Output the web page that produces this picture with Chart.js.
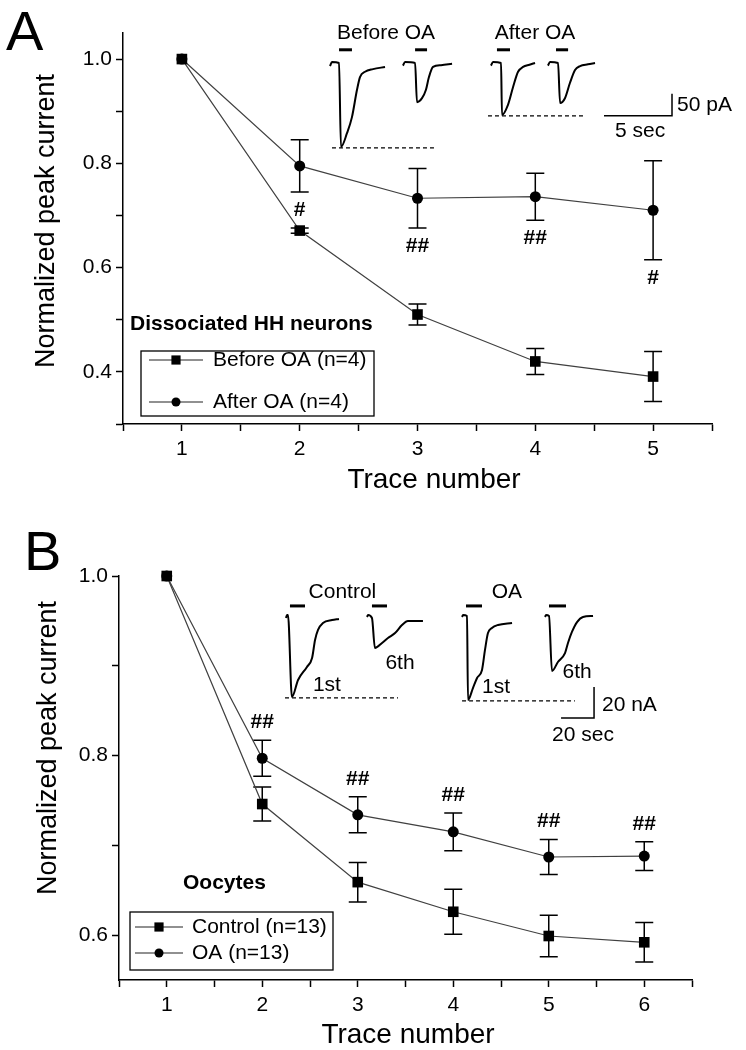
<!DOCTYPE html>
<html>
<head>
<meta charset="utf-8">
<script src="https://cdn.jsdelivr.net/npm/chart.js@4.4.0/dist/chart.umd.min.js"></script>
<style>
  body { margin: 0; background: #fff; }
  #wrap { position: relative; width: 746px; height: 1050px; }
  canvas { position: absolute; }
</style>
</head>
<body>
<div id="wrap">
  <canvas id="chartA" width="746" height="510" style="left:0;top:0"></canvas>
  <canvas id="insetA" width="426" height="140" style="left:320px;top:20px"></canvas>
  <canvas id="chartB" width="746" height="540" style="left:0;top:510px"></canvas>
  <canvas id="insetB" width="476" height="180" style="left:270px;top:570px"></canvas>
</div>
<script>
// ---- panel A: dissociated HH neurons ----
const traceNumA = [1, 2, 3, 4, 5];
const beforeOA = [1.0, 0.671, 0.510, 0.420, 0.391];
const beforeOAErr = [0, 0.005, 0.020, 0.025, 0.048];
const afterOA = [1.0, 0.795, 0.733, 0.736, 0.710];
const afterOAErr = [0, 0.050, 0.057, 0.045, 0.095];
const signifA = ['', '#', '##', '##', '#'];
const namesA = ['Before OA (n=4)', 'After OA (n=4)'];
const xTicksA = [0.5, 1, 1.5, 2, 2.5, 3, 3.5, 4, 4.5, 5, 5.5];
const xLabelsA = [1, 2, 3, 4, 5];
const yTicksA = [0.3, 0.4, 0.5, 0.6, 0.7, 0.8, 0.9, 1.0];
const yLabelsA = [0.4, 0.6, 0.8, 1.0];

// ---- panel B: oocytes ----
const traceNumB = [1, 2, 3, 4, 5, 6];
const control = [1.0, 0.746, 0.659, 0.626, 0.599, 0.592];
const controlErr = [0, 0.019, 0.022, 0.025, 0.023, 0.022];
const oa = [1.0, 0.797, 0.734, 0.715, 0.687, 0.688];
const oaErr = [0, 0.020, 0.020, 0.021, 0.0195, 0.016];
const signifB = ['', '##', '##', '##', '##', '##'];
const namesB = ['Control (n=13)', 'OA (n=13)'];
const xTicksB = [0.5, 1, 1.5, 2, 2.5, 3, 3.5, 4, 4.5, 5, 5.5, 6, 6.5];
const xLabelsB = [1, 2, 3, 4, 5, 6];
const yTicksB = [0.6, 0.7, 0.8, 0.9, 1.0];
const yLabelsB = [0.6, 0.8, 1.0];

// ---- inset A current traces (time s, current pA) ----
const befor1T = [0.74, 0.88, 1.40, 1.54, 1.99, 2.35, 2.72, 2.94, 3.31, 3.90, 4.78];
const befor1I = [-7, 2, 0, -191, -159, -123, -61, -32, -20, -14, -9];
const befor2T = [6.10, 6.25, 6.99, 7.13, 7.50, 7.79, 8.01, 8.31, 8.90, 9.71];
const befor2I = [-6, 2, 0, -89, -80, -61, -32, -9, -5, -2];
const after1T = [12.57, 12.72, 13.31, 13.38, 13.82, 14.19, 14.56, 14.93, 15.40, 15.81];
const after1I = [-6, 2, 0, -118, -95, -55, -20, -9, -4, 0];
const after2T = [16.76, 16.91, 17.50, 17.65, 18.01, 18.38, 18.75, 19.12, 19.70, 20.22];
const after2I = [-6, 2, 0, -91, -80, -45, -16, -7, -3, 0];
const stimA = [[1.40, 2.35], [6.99, 7.87], [13.01, 13.97], [17.35, 18.24]];
const stimLevelA = 30;
const peakRefA = [[0.88, 8.46, -193], [12.35, 19.34, -120]];
const scaleBarA = [[20.88, 25.88, 25.88], [-120, -120, -70]]; // 5 sec, 50 pA

// ---- inset B current traces (time s, current nA) ----
const ctl1T = [9.7, 10.3, 10.9, 13.3, 17.0, 22.4, 25.5, 27.3, 29.1, 32.1, 37.6, 41.8];
const ctl1I = [-1.3, 0.6, 0.6, -52.3, -41.3, -32.9, -27.1, -15.5, -9.0, -4.5, -2.6, -1.9];
const ctl6T = [58.8, 59.4, 61.8, 63.6, 67.9, 71.5, 75.8, 80.0, 83.6, 92.7];
const ctl6I = [-0.6, 0.6, -1.3, -20.6, -17.4, -14.2, -11.0, -5.8, -3.2, -3.2];
const oa1T = [116.4, 117.0, 119.4, 120.0, 123.0, 125.5, 128.5, 130.3, 132.1, 134.5, 138.2, 146.7];
const oa1I = [-0.6, 0.6, 0, -54.2, -46.5, -40.0, -34.8, -21.9, -11.0, -7.7, -5.8, -4.5];
const oa6T = [166.7, 167.3, 169.1, 170.9, 174.5, 178.8, 180.6, 183.0, 186.1, 189.7, 195.8];
const oa6I = [-0.6, 0.6, 0, -35.5, -29.7, -23.9, -17.4, -10.3, -3.9, -0.6, 0];
const stimB = [[12.1, 21.2], [61.8, 70.9], [118.8, 128.5], [169.1, 179.4]];
const stimLevelB = 6.5;
const peakRefB = [[9.1, 77.6, -52.9], [116.4, 184.8, -54.8]];
const scaleBarB = [[176.4, 196.4, 196.4], [-65.8, -65.8, -45.8]]; // 20 sec, 20 nA

const FONT = '"Liberation Sans", Arial, sans-serif';
Chart.defaults.font.family = FONT;
Chart.defaults.color = '#000';

function pts(xs, ys) {
  return xs.map((x, i) => ({ x: x, y: ys[i] }));
}
function near(list, v) {
  return list.some(a => Math.abs(a - v) < 1e-6);
}

// error bars under the symbols
const errorBars = {
  id: 'errorBars',
  beforeDatasetsDraw(chart) {
    const ctx = chart.ctx, xs = chart.scales.x, ys = chart.scales.y;
    ctx.save();
    ctx.strokeStyle = '#000';
    ctx.lineWidth = 1.5;
    chart.data.datasets.forEach(ds => {
      ds.data.forEach((d, i) => {
        const e = ds.err[i];
        if (!e) return;
        const px = xs.getPixelForValue(d.x);
        const top = ys.getPixelForValue(d.y + e);
        const bot = ys.getPixelForValue(d.y - e);
        ctx.beginPath();
        ctx.moveTo(px, top); ctx.lineTo(px, bot);
        ctx.moveTo(px - 9, top); ctx.lineTo(px + 9, top);
        ctx.moveTo(px - 9, bot); ctx.lineTo(px + 9, bot);
        ctx.stroke();
      });
    });
    ctx.restore();
  }
};

// letters, titles, caption, legend box, significance marks
const decor = {
  id: 'decor',
  afterDraw(chart, args, o) {
    const ctx = chart.ctx, xs = chart.scales.x, ys = chart.scales.y;
    ctx.save();
    ctx.fillStyle = '#000';
    ctx.strokeStyle = '#000';

    ctx.font = '56px ' + FONT;
    ctx.textAlign = 'left';
    ctx.textBaseline = 'alphabetic';
    ctx.fillText(o.letter, o.letterPos[0], o.letterPos[1]);

    ctx.font = '28px ' + FONT;
    ctx.textAlign = 'center';
    ctx.fillText('Trace number', o.xTitle[0], o.xTitle[1]);
    ctx.save();
    ctx.translate(o.yTitle[0], o.yTitle[1]);
    ctx.rotate(-Math.PI / 2);
    ctx.font = '27px ' + FONT;
    ctx.fillText('Normalized peak current', 0, 0);
    ctx.restore();

    ctx.font = 'bold 21px ' + FONT;
    ctx.textAlign = 'left';
    ctx.textBaseline = 'middle';
    ctx.fillText(o.caption, o.captionPos[0], o.captionPos[1]);

    // significance marks
    const sds = chart.data.datasets[o.sigDataset];
    ctx.font = 'bold 21px ' + FONT;
    ctx.textAlign = 'center';
    sds.data.forEach((d, i) => {
      if (!o.sig[i]) return;
      const px = xs.getPixelForValue(d.x);
      const py = o.sigBelow ? ys.getPixelForValue(d.y - sds.err[i]) + 18
                            : ys.getPixelForValue(d.y + sds.err[i]) - 18;
      ctx.fillText(o.sig[i], px, py);
    });

    // legend
    const L = o.legend;
    ctx.lineWidth = 1.3;
    ctx.strokeRect(L.box[0], L.box[1], L.box[2], L.box[3]);
    ctx.font = '21px ' + FONT;
    ctx.textAlign = 'left';
    chart.data.datasets.forEach((ds, i) => {
      const y = L.rows[i];
      ctx.strokeStyle = '#222';
      ctx.lineWidth = ds.borderWidth;
      ctx.beginPath();
      ctx.moveTo(L.line[0], y);
      ctx.lineTo(L.line[1], y);
      ctx.stroke();
      ctx.fillStyle = '#000';
      Chart.helpers.drawPoint(ctx, { pointStyle: ds.pointStyle, radius: ds.pointRadius - 1, rotation: 0, borderWidth: 0 },
        (L.line[0] + L.line[1]) / 2, y);
      ctx.fillText(ds.label, L.text, y);
    });
    ctx.restore();
  }
};

function mainChart(id, p) {
  const seriesStyle = {
    showLine: true, borderColor: '#404040', borderWidth: 1.2,
    pointBackgroundColor: '#000', pointBorderColor: '#000', pointBorderWidth: 0,
    clip: false
  };
  return new Chart(document.getElementById(id), {
    type: 'scatter',
    data: {
      datasets: [
        Object.assign({ label: p.names[0], data: pts(p.x, p.s0), err: p.e0, pointStyle: 'rect', pointRadius: 7.5 }, seriesStyle),
        Object.assign({ label: p.names[1], data: pts(p.x, p.s1), err: p.e1, pointStyle: 'circle', pointRadius: 5.5 }, seriesStyle)
      ]
    },
    options: {
      responsive: false,
      animation: false,
      layout: { padding: p.padding },
      plugins: { legend: { display: false }, tooltip: { enabled: false }, decor: p.decor },
      scales: {
        x: {
          type: 'linear', min: p.xRange[0], max: p.xRange[1],
          afterBuildTicks: s => { s.ticks = p.xTicks.map(v => ({ value: v })); },
          afterFit: s => { s.height = p.xAxisH; },
          grid: { drawOnChartArea: false, tickLength: 7, tickWidth: 1.5, tickColor: '#000' },
          border: { color: '#000', width: 1.5 },
          ticks: { autoSkip: false, maxRotation: 0, padding: 6, font: { size: 21 },
                   callback: v => near(p.xLabels, v) ? String(v) : '' }
        },
        y: {
          type: 'linear', min: p.yRange[0], max: p.yRange[1],
          afterBuildTicks: s => { s.ticks = p.yTicks.map(v => ({ value: v })); },
          afterFit: s => { s.width = p.yAxisW; },
          grid: { drawOnChartArea: false, tickLength: 7, tickWidth: 1.5, tickColor: '#000' },
          border: { color: '#000', width: 1.5 },
          ticks: { autoSkip: false, padding: 4, font: { size: 21 },
                   callback: v => near(p.yLabels, v) ? v.toFixed(1) : '' }
        }
      }
    },
    plugins: [errorBars, decor]
  });
}

const insetText = {
  id: 'insetText',
  afterDraw(chart, args, o) {
    const ctx = chart.ctx, xs = chart.scales.x, ys = chart.scales.y;
    ctx.save();
    ctx.fillStyle = '#000';
    ctx.font = '21px ' + FONT;
    ctx.textBaseline = 'middle';
    o.labels.forEach(l => {
      ctx.textAlign = l[3] || 'center';
      ctx.fillText(l[0], xs.getPixelForValue(l[1]), ys.getPixelForValue(l[2]));
    });
    ctx.restore();
  }
};

function insetChart(id, p) {
  const ds = [];
  p.traces.forEach(tr => ds.push({
    data: pts(tr[0], tr[1]), borderColor: '#000', borderWidth: 2,
    cubicInterpolationMode: 'monotone'
  }));
  p.stim.forEach(s => ds.push({
    data: pts(s, [p.stimLevel, p.stimLevel]), borderColor: '#000', borderWidth: 3
  }));
  p.peakRef.forEach(r => ds.push({
    data: pts([r[0], r[1]], [r[2], r[2]]), borderColor: '#000', borderWidth: 1.2, borderDash: [4, 3]
  }));
  ds.push({ data: pts(p.scaleBar[0], p.scaleBar[1]), borderColor: '#000', borderWidth: 1.5 });
  ds.forEach(d => { d.showLine = true; d.pointRadius = 0; d.clip = false; });
  return new Chart(document.getElementById(id), {
    type: 'scatter',
    data: { datasets: ds },
    options: {
      responsive: false,
      animation: false,
      layout: { padding: 0 },
      plugins: { legend: { display: false }, tooltip: { enabled: false }, insetText: { labels: p.labels } },
      scales: {
        x: { type: 'linear', display: false, min: p.xRange[0], max: p.xRange[1] },
        y: { type: 'linear', display: false, min: p.yRange[0], max: p.yRange[1] }
      }
    },
    plugins: [insetText]
  });
}

mainChart('chartA', {
  x: traceNumA, s0: beforeOA, e0: beforeOAErr, s1: afterOA, e1: afterOAErr, names: namesA,
  xRange: [0.5, 5.5], yRange: [0.3, 1.05],
  xTicks: xTicksA, xLabels: xLabelsA, yTicks: yTicksA, yLabels: yLabelsA,
  padding: { top: 33, right: 34, left: 0, bottom: 0 }, yAxisW: 123, xAxisH: 86,
  decor: {
    letter: 'A', letterPos: [6, 50], xTitle: [434, 488], yTitle: [54, 221],
    caption: 'Dissociated HH neurons', captionPos: [130, 324],
    sig: signifA, sigDataset: 1, sigBelow: true,
    legend: { box: [141, 351, 233, 65], rows: [360, 402], line: [149, 203], text: 213 }
  }
});

mainChart('chartB', {
  x: traceNumB, s0: control, e0: controlErr, s1: oa, e1: oaErr, names: namesB,
  xRange: [0.5, 6.5], yRange: [0.55, 1.0],
  xTicks: xTicksB, xLabels: xLabelsB, yTicks: yTicksB, yLabels: yLabelsB,
  padding: { top: 66, right: 54, left: 0, bottom: 0 }, yAxisW: 119, xAxisH: 70,
  decor: {
    letter: 'B', letterPos: [24, 60], xTitle: [408, 533], yTitle: [56, 238],
    caption: 'Oocytes', captionPos: [183, 373],
    sig: signifB, sigDataset: 1, sigBelow: false,
    legend: { box: [130, 402, 203, 58], rows: [417, 443], line: [135, 183], text: 192 }
  }
});

insetChart('insetA', {
  traces: [[befor1T, befor1I], [befor2T, befor2I], [after1T, after1I], [after2T, after2I]],
  stim: stimA, stimLevel: stimLevelA, peakRef: peakRefA, scaleBar: scaleBarA,
  xRange: [0, 31.32], yRange: [-220.5, 97.7],
  labels: [['Before OA', 4.85, 68], ['After OA', 15.81, 68], ['50 pA', 26.25, -97, 'left'], ['5 sec', 23.53, -155]]
});

insetChart('insetB', {
  traces: [[ctl1T, ctl1I], [ctl6T, ctl6I], [oa1T, oa1I], [oa6T, oa6I]],
  stim: stimB, stimLevel: stimLevelB, peakRef: peakRefB, scaleBar: scaleBarB,
  xRange: [0, 288.5], yRange: [-86.5, 29.7],
  labels: [['Control', 43.9, 15.5], ['OA', 143.6, 15.5], ['1st', 34.5, -44.5], ['6th', 78.8, -30.3],
           ['1st', 137.0, -45.8], ['6th', 186.1, -36.1], ['20 nA', 201.2, -57.4, 'left'], ['20 sec', 189.7, -76.8]]
});
</script>
</body>
</html>
